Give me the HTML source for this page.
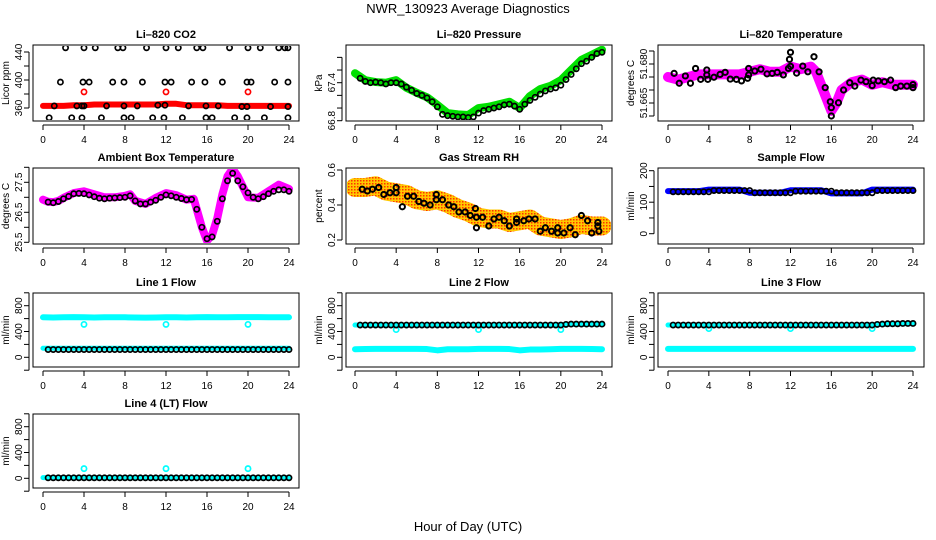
<!DOCTYPE html>
<html><head><meta charset="utf-8"><style>
html,body{margin:0;padding:0;background:#fff;}
svg{display:block;font-family:"Liberation Sans",Arial,sans-serif;}
.tk{font-size:10px;fill:#000}
.tt{font-size:11px;font-weight:bold;fill:#000}
</style></head><body>
<svg id="chart" width="936" height="540" viewBox="0 0 936 540" xmlns="http://www.w3.org/2000/svg">
<defs>
<pattern id="rhpat" width="3" height="3" patternUnits="userSpaceOnUse"><rect width="3" height="3" fill="#ffc800"/><rect width="1.5" height="1.5" fill="#ff3000"/></pattern>
</defs>
<text x="468" y="13" text-anchor="middle" style="font-size:13px">NWR_130923  Average Diagnostics</text>
<text x="468" y="531" text-anchor="middle" style="font-size:13px">Hour of Day (UTC)</text>
</svg>
<script>
// ---- data ----
const HOURLY=[0,1,2,3,4,5,6,7,8,9,10,11,12,13,14,15,16,17,18,19,20,21,22,23,24];
const HRS=[0.5,1,1.5,2,2.5,3,3.5,4,4.5,5,5.5,6,6.5,7,7.5,8,8.5,9,9.5,10,10.5,11,11.5,12,12.5,13,13.5,14,14.5,15,15.5,16,16.5,17,17.5,18,18.5,19,19.5,20,20.5,21,21.5,22,22.5,23,23.5,24];
const OUT_H=[4,12,20];
const X_TICKS=[0,4,8,12,16,20,24];

const co2Red=[363,363,363,364,364,365,365,365,365,365,365,365,366,366,364,364,364,364,363,363,363,363,363,363,363];
const co2RedOut=[383,383,383];
const co2TopH=[2.2,4,5.1,7.3,7.8,10.1,12,13.2,15,15.6,18.2,20,21.2,23,23.6,23.9];
const co2TopV=[446,446,446,446,446,446,446,446,446,446,446,446,446,446,446,446];
const co2MidH=[1.7,3.9,4.5,6.8,7.9,9.7,11.9,12.5,14.5,15.8,17.5,19.9,20.3,22.6,23.9];
const co2MidV=[397,397,397,397,397,397,397,397,397,397,397,397,397,397,397];
const co2LowH=[0.6,2.8,3.8,5.7,7.9,8.6,10.7,11.8,13.6,15.9,16.5,18.7,19.9,21.6,23.9];
const co2LowV=[346,346,346,346,346,346,346,346,346,346,346,346,346,346,346];
const co2LineH=[1.1,3.3,3.8,4,6.2,7.9,9.2,11.2,11.9,14.2,15.9,17.1,19.4,19.9,22.2,23.9];
const co2LineV=[363,363,363,363,363,363,363,364,364,363,363,363,362,362,362,362];

const presGreen=[67.55,67.44,67.41,67.40,67.44,67.32,67.24,67.17,67.05,66.92,66.90,66.89,67.00,67.02,67.06,67.10,67.00,67.19,67.30,67.35,67.44,67.60,67.76,67.84,67.92];
const presBlack=[67.47,67.42,67.40,67.41,67.40,67.38,67.40,67.40,67.38,67.33,67.28,67.23,67.20,67.16,67.10,67.02,66.90,66.88,66.87,66.86,66.86,66.85,66.86,66.92,66.96,66.98,67.00,67.02,67.05,67.06,67.03,66.98,67.06,67.12,67.17,67.22,67.27,67.30,67.32,67.36,67.45,67.53,67.62,67.70,67.74,67.80,67.86,67.88];

const tempMagH=[0,1,2,3,4,5,6,7,8,9,10,11,12,13,14,14.5,15,15.5,16,16.5,17,18,19,20,21,22,23,24];
const tempMagV=[51.675,51.674,51.675,51.676,51.676,51.676,51.676,51.676,51.677,51.678,51.677,51.677,51.679,51.678,51.679,51.677,51.672,51.667,51.662,51.665,51.670,51.673,51.674,51.672,51.673,51.672,51.672,51.672];
const tempBlkH=[0.6,1.1,1.7,2.2,2.7,3.2,3.8,3.8,3.9,4.5,5.1,5.6,6.1,6.7,7.2,7.8,7.9,7.9,8.5,9.1,9.7,10.2,10.7,11.3,11.8,11.9,12,12,12.6,13.2,13.7,14.3,14.8,15.4,15.9,16,16,16.7,17.2,17.8,18.3,18.9,19.4,20,20.1,20.6,21.2,21.8,22.3,22.8,23.4,24,24];
const tempBlkV=[51.6764,51.6726,51.6754,51.6726,51.6783,51.6741,51.6777,51.6758,51.6741,51.6749,51.6760,51.6768,51.6742,51.6741,51.6735,51.6745,51.6783,51.6758,51.6773,51.6780,51.6762,51.6764,51.6768,51.6758,51.6783,51.6818,51.6845,51.6791,51.6765,51.6792,51.6770,51.6828,51.6770,51.6709,51.6655,51.6632,51.6600,51.6651,51.6700,51.6728,51.6715,51.6738,51.6732,51.6717,51.6738,51.6735,51.6732,51.6738,51.6709,51.6715,51.6715,51.6721,51.6709];

const ambMagH=[0,0.5,1,1.5,2,3,4,5,6,7,8,8.5,9,10,11,12,13,14,14.7,15,15.5,16,16.5,17,17.5,18,18.5,19,19.5,20,21,22,23,24];
const ambMagV=[26.92,26.85,26.84,26.88,26.98,27.14,27.2,27.1,27.0,27.0,27.05,27.1,26.88,26.78,26.98,27.14,27.07,26.92,26.95,26.6,26.0,25.55,25.75,26.3,27.1,27.7,27.95,27.7,27.35,27.0,26.98,27.2,27.42,27.28];
const ambBlack=[26.84,26.82,26.86,26.95,27.03,27.12,27.13,27.12,27.08,27.02,26.97,26.95,26.97,26.98,26.99,27.0,27.05,26.88,26.78,26.78,26.84,26.90,27.0,27.08,27.05,27.0,26.96,26.92,26.93,26.6,26.0,25.62,25.68,26.2,26.95,27.55,27.8,27.55,27.35,27.15,27.0,26.95,27.02,27.12,27.2,27.25,27.25,27.2];

const rhBand=[0.50,0.50,0.51,0.48,0.47,0.46,0.43,0.42,0.43,0.41,0.38,0.36,0.33,0.32,0.32,0.30,0.31,0.32,0.28,0.27,0.26,0.27,0.29,0.28,0.28];
const rhBlkH=[0.7,1.2,1.7,2.3,2.8,3.4,4.0,4.0,4.6,5.1,5.7,6.2,6.7,7.3,7.9,7.9,8.5,9.1,9.6,10.1,10.7,11.2,11.7,11.8,11.8,12.4,13,13.5,14,14.5,15,15.7,15.7,16.4,16.9,17.5,18,18.5,19.1,19.7,19.7,20.3,20.9,21.4,22,22.6,23,23.6,23.6,23.7];
const rhBlkV=[0.49,0.48,0.49,0.50,0.46,0.47,0.50,0.47,0.39,0.45,0.45,0.42,0.41,0.40,0.46,0.43,0.43,0.40,0.39,0.36,0.36,0.34,0.38,0.33,0.27,0.33,0.28,0.32,0.33,0.31,0.28,0.32,0.30,0.31,0.32,0.32,0.25,0.27,0.25,0.27,0.24,0.24,0.27,0.23,0.34,0.31,0.24,0.30,0.28,0.25];

const sampBlue=[135,135,135,135,140,140,140,140,130,130,130,130,138,138,138,138,128,128,128,128,140,140,140,140,140];
const sampBlack=[133,133,133,133,133,133,133,133,137,137,137,137,137,137,137,137,130,130,130,130,130,130,130,130,135,135,135,135,135,135,135,135,130,130,130,130,130,130,130,130,137,137,137,137,137,137,137,137];

const l1CyanTop=[620,618,620,622,620,618,620,620,620,618,616,618,620,620,618,620,622,620,620,622,622,622,620,620,620];
const l1CyanLow=[140,140,140,140,140,140,140,140,140,140,140,140,140,140,140,140,140,140,140,140,140,140,140,140,140];
const l1Out=[510,510,510];
const l1Black=[120,120,120,120,120,120,120,120,120,120,120,120,120,120,120,120,120,120,120,120,120,120,120,120,120,120,120,120,120,120,120,120,120,120,120,120,120,120,120,120,120,120,120,120,120,120,120,120];

const l2CyanTop=[500,500,500,500,500,500,500,500,500,500,500,500,500,500,500,500,500,500,500,500,505,510,510,510,510];
const l2CyanLow=[125,128,130,130,130,130,130,128,108,125,125,125,130,130,130,128,108,120,120,125,130,130,130,128,125];
const l2Out=[430,430,430];
const l2Black=[500,500,500,500,500,500,500,500,500,500,500,500,500,500,500,500,500,500,500,500,500,500,500,500,500,500,500,500,500,500,500,500,500,500,500,500,500,500,500,500,510,515,515,515,515,515,515,515];

const l3CyanTop=[500,500,500,500,500,500,500,500,500,500,500,500,500,500,500,500,500,500,500,500,505,510,515,520,520];
const l3CyanLow=[130,130,130,130,130,130,130,130,130,130,130,130,130,130,130,130,130,130,130,130,130,130,130,130,130];
const l3Out=[445,445,445];
const l3Black=[500,500,500,500,500,500,500,500,500,500,500,500,500,500,500,500,500,500,500,500,500,500,500,500,500,500,500,500,500,500,500,500,500,500,500,500,500,500,500,500,510,515,520,520,520,525,525,525];

const l4Cyan=[10,10,10,10,10,10,10,10,10,10,10,10,10,10,10,10,10,10,10,10,10,10,10,10,10];
const l4Out=[150,150,150];
const l4Black=[8,8,8,8,8,8,8,8,8,8,8,8,8,8,8,8,8,8,8,8,8,8,8,8,8,8,8,8,8,8,8,8,8,8,8,8,8,8,8,8,8,8,8,8,8,8,8,8];

// ---- drawing ----
const NS='http://www.w3.org/2000/svg';
const svg=document.getElementById('chart');
function mk(tag,parent){const e=document.createElementNS(NS,tag);parent.appendChild(e);return e;}

function panel(key,title,ylab,L,R,T,B,xa,xb,va,pa,vb,pb,yTicks,yLabs,dec){
  const g=mk('g',svg);
  
  
  const xs=h=>xa+(xb-xa)*h/24;
  const ys=v=>pa+(pb-pa)*(v-va)/(vb-va);
  const box=mk('rect',g);
  box.setAttribute('x',L);box.setAttribute('y',T);box.setAttribute('width',R-L);box.setAttribute('height',B-T);
  box.setAttribute('fill','none');box.setAttribute('stroke','#000');box.setAttribute('stroke-width','1');
  
  
  const t=mk('text',g);t.setAttribute('class','tt');t.setAttribute('x',(L+R)/2);t.setAttribute('y',T-7);t.setAttribute('text-anchor','middle');t.textContent=title;
  
  
  const yl=mk('text',g);yl.setAttribute('class','tk');yl.setAttribute('text-anchor','middle');
  const ylx=L-24,yly=(T+B)/2;
  yl.setAttribute('x',ylx);yl.setAttribute('y',yly);yl.setAttribute('transform','rotate(-90 '+ylx+' '+yly+')');yl.textContent=ylab;
  
  
  const xl=mk('line',g);xl.setAttribute('x1',xs(0));xl.setAttribute('x2',xs(24));xl.setAttribute('y1',B+4);xl.setAttribute('y2',B+4);xl.setAttribute('stroke','#000');
  
  
  X_TICKS.forEach(h=>{
    const tk=mk('line',g);tk.setAttribute('x1',xs(h));tk.setAttribute('x2',xs(h));tk.setAttribute('y1',B+4);tk.setAttribute('y2',B+9);tk.setAttribute('stroke','#000');
    
    
    const tl=mk('text',g);tl.setAttribute('class','tk');tl.setAttribute('x',xs(h));tl.setAttribute('y',B+22);tl.setAttribute('text-anchor','middle');tl.textContent=String(h);
    
    
  });
  const yax=mk('line',g);yax.setAttribute('x1',L-4);yax.setAttribute('x2',L-4);yax.setAttribute('y1',ys(yTicks[0]));yax.setAttribute('y2',ys(yTicks[yTicks.length-1]));yax.setAttribute('stroke','#000');
  
  
  yTicks.forEach(v=>{
    const tk=mk('line',g);tk.setAttribute('x1',L-9);tk.setAttribute('x2',L-4);tk.setAttribute('y1',ys(v));tk.setAttribute('y2',ys(v));tk.setAttribute('stroke','#000');
    
    
  });
  yLabs.forEach(v=>{
    const tl=mk('text',g);tl.setAttribute('class','tk');tl.setAttribute('text-anchor','middle');
    const tx=L-11,ty=ys(v);
    tl.setAttribute('x',tx);tl.setAttribute('y',ty);tl.setAttribute('transform','rotate(-90 '+tx+' '+ty+')');
    tl.textContent=(dec!==undefined)?v.toFixed(dec):String(v);
    
    
  });
  const clip=mk('clipPath',g);clip.setAttribute('id','clip-'+key);
  const cr=mk('rect',clip);cr.setAttribute('x',L+1);cr.setAttribute('y',T+1);cr.setAttribute('width',R-L-2);cr.setAttribute('height',B-T-2);
  const pg=mk('g',g);pg.setAttribute('clip-path','url(#clip-'+key+')');
  return {g:pg,xs,ys};
}
function band(P,hs,vs,color,w,name){
  const pl=mk('polyline',P.g);
  pl.setAttribute('points',hs.map((h,i)=>P.xs(h)+','+P.ys(vs[i])).join(' '));
  pl.setAttribute('fill','none');pl.setAttribute('stroke',color);pl.setAttribute('stroke-width',w);
  pl.setAttribute('stroke-linejoin','round');pl.setAttribute('stroke-linecap','round');
  
  
}
function pts(P,hs,vs,color,name,r,sw){
  hs.forEach((h,i)=>{
    const c=mk('circle',P.g);
    c.setAttribute('cx',P.xs(h));c.setAttribute('cy',P.ys(vs[i]));c.setAttribute('r',r||2.6);
    c.setAttribute('fill','none');c.setAttribute('stroke',color);c.setAttribute('stroke-width',sw||1.7);
    
    
  });
}
const C1=[33,299,43,289],C2=[346,612,355,602],C3=[658,924,668,913];
const FLOW_T=[-200,0,200,400,600,800,1000],FLOW_L=[0,400,800];

let P=panel('co2','Li–820 CO2','Licor ppm',C1[0],C1[1],45,121,C1[2],C1[3],360,108,440,52,[360,380,400,420,440],[360,400,440]);
band(P,HOURLY,co2Red,'#ff0000',6,'co2-red-series');
pts(P,OUT_H,co2RedOut,'#ff0000','co2-red-outlier');
pts(P,co2TopH,co2TopV,'#000','co2-black-point');
pts(P,co2MidH,co2MidV,'#000','co2-black-point');
pts(P,co2LowH,co2LowV,'#000','co2-black-point');
pts(P,co2LineH,co2LineV,'#000','co2-black-point');

P=panel('pressure','Li–820 Pressure','kPa',C2[0],C2[1],45,121,C2[2],C2[3],66.8,120.7,67.4,82.7,[66.8,67.0,67.2,67.4,67.6,67.8],[66.8,67.4],1);
band(P,HOURLY,presGreen,'#00e000',8,'pressure-green-series');
pts(P,HRS,presBlack,'#000','pressure-black-point');

P=panel('li-temp','Li–820 Temperature','degrees C',C3[0],C3[1],45,121,C3[2],C3[3],51.680,64,51.670,90,[51.660,51.665,51.670,51.675,51.680,51.685],[51.665,51.680],3);
band(P,tempMagH,tempMagV,'#ff00ff',10,'li-temp-magenta-series');
pts(P,tempBlkH,tempBlkV,'#000','li-temp-black-point',2.6,2);

P=panel('ambient','Ambient Box Temperature','degrees C',C1[0],C1[1],168,244,C1[2],C1[3],25.5,242.3,27.5,182.3,[25.5,26,26.5,27,27.5,28],[25.5,26.5,27.5]);
band(P,ambMagH,ambMagV,'#ff00ff',8,'ambient-magenta-series');
pts(P,HRS,ambBlack,'#000','ambient-black-point');

P=panel('rh','Gas Stream RH','percent',C2[0],C2[1],168,244,C2[2],C2[3],0.2,240,0.6,170,[0.2,0.4,0.6],[0.2,0.4,0.6]);
band(P,HOURLY,rhBand,'url(#rhpat)',19,'rh-band-series');
pts(P,rhBlkH,rhBlkV,'#000','rh-black-point',2.6,2);

P=panel('sample-flow','Sample Flow','ml/min',C3[0],C3[1],168,244,C3[2],C3[3],0,233.7,200,170.7,[0,50,100,150,200],[0,100,200]);
band(P,HOURLY,sampBlue,'#0000ff',6,'sample-blue-series');
pts(P,HRS,sampBlack,'#000','sample-black-point');

P=panel('line1','Line 1 Flow','ml/min',C1[0],C1[1],293,367,C1[2],C1[3],0,357.3,800,305.7,FLOW_T,FLOW_L);
band(P,HOURLY,l1CyanTop,'#00ffff',6,'line1-cyan-series');
band(P,HOURLY,l1CyanLow,'#00ffff',5,'line1-cyan-low-series');
pts(P,OUT_H,l1Out,'#00ffff','line1-cyan-outlier');
pts(P,HRS,l1Black,'#000','line1-black-point');

P=panel('line2','Line 2 Flow','ml/min',C2[0],C2[1],293,367,C2[2],C2[3],0,357.3,800,305.7,FLOW_T,FLOW_L);
band(P,HOURLY,l2CyanTop,'#00ffff',5,'line2-cyan-series');
band(P,HOURLY,l2CyanLow,'#00ffff',6,'line2-cyan-low-series');
pts(P,OUT_H,l2Out,'#00ffff','line2-cyan-outlier');
pts(P,HRS,l2Black,'#000','line2-black-point');

P=panel('line3','Line 3 Flow','ml/min',C3[0],C3[1],293,367,C3[2],C3[3],0,357.3,800,305.7,FLOW_T,FLOW_L);
band(P,HOURLY,l3CyanTop,'#00ffff',5,'line3-cyan-series');
band(P,HOURLY,l3CyanLow,'#00ffff',6,'line3-cyan-low-series');
pts(P,OUT_H,l3Out,'#00ffff','line3-cyan-outlier');
pts(P,HRS,l3Black,'#000','line3-black-point');

P=panel('line4','Line 4 (LT) Flow','ml/min',C1[0],C1[1],414,488,C1[2],C1[3],0,478.3,800,426.7,FLOW_T,FLOW_L);
band(P,HOURLY,l4Cyan,'#00ffff',5,'line4-cyan-series');
pts(P,OUT_H,l4Out,'#00ffff','line4-cyan-outlier');
pts(P,HRS,l4Black,'#000','line4-black-point');
</script>
</body></html>
